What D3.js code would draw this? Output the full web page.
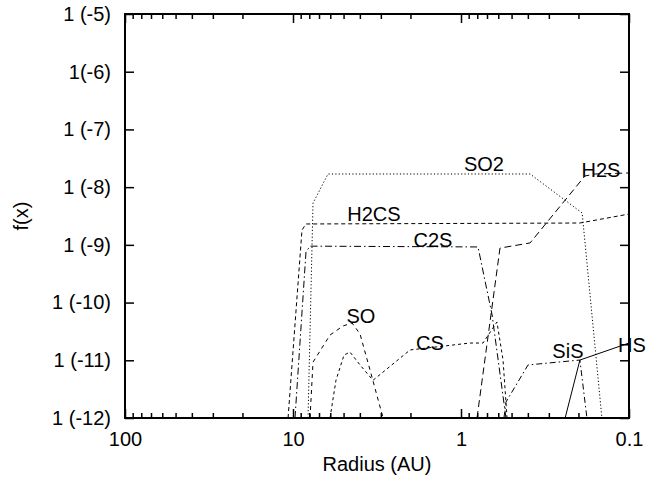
<!DOCTYPE html>
<html>
<head>
<meta charset="utf-8">
<script src="https://cdn.jsdelivr.net/npm/d3@7"></script>
<style>
  body { margin: 0; background: #fff; }
  svg text { font-family: "Liberation Sans", Arial, sans-serif; fill: #000; }
</style>
</head>
<body>
<div id="chart"></div>
<script>
// radius (AU) and fractional abundance f(x)
const so2R  = [8.14, 7.60, 6.19, 0.388, 0.190, 0.145];
const so2F  = [1e-12, 5.3e-9, 1.69e-8, 1.69e-8, 3.56e-9, 1e-12];
const h2csR = [10.7, 8.84, 8.37, 0.196, 0.1];
const h2csF = [1e-12, 1.81e-9, 2.30e-9, 2.39e-9, 3.42e-9];
const c2sR  = [9.73, 8.37, 7.92, 0.792, 0.653, 0.540];
const c2sF  = [1e-12, 7.5e-10, 9.5e-10, 9.2e-10, 6.1e-11, 1e-12];
const h2sR  = [0.803, 0.586, 0.388, 0.183, 0.159, 0.1];
const h2sF  = [1e-12, 8.8e-10, 1.08e-9, 1.56e-8, 1.69e-8, 1.76e-8];
const soR   = [7.92, 7.60, 6.02, 5.04, 4.45, 3.99, 3.48, 2.91];
const soF   = [1e-12, 9.3e-12, 2.74e-11, 3.93e-11, 4.43e-11, 2.85e-11, 6.8e-12, 1e-12];
const csR   = [6.02, 5.55, 4.97, 4.58, 3.99, 3.34, 2.01, 0.884, 0.740, 0.611, 0.562, 0.532];
const csF   = [1e-12, 4.5e-12, 1.23e-11, 1.39e-11, 8.3e-12, 4.5e-12, 1.51e-11, 1.99e-11, 1.99e-11, 4.6e-11, 1.01e-11, 1e-12];
const sisR  = [0.555, 0.540, 0.399, 0.196, 0.178];
const sisF  = [1e-12, 1.89e-12, 8.3e-12, 1.01e-11, 1e-12];
const hsR   = [0.240, 0.196, 0.1];
const hsF   = [1e-12, 1.01e-11, 1.99e-11];

const yTickValues = [1e-5, 1e-6, 1e-7, 1e-8, 1e-9, 1e-10, 1e-11, 1e-12];
const yTickLabels = ["1 (-5)", "1(-6)", "1 (-7)", "1 (-8)", "1 (-9)", "1 (-10)", "1 (-11)", "1 (-12)"];
const xMajor = [100, 10, 1, 0.1];
const xMajorLabels = ["100", "10", "1", "0.1"];

// curve labels, anchored in data units
const labelNames = ["SO2", "H2S", "H2CS", "C2S", "SO", "CS", "SiS", "HS"];
const labelR = [0.730, 0.147, 3.3, 1.47, 3.94, 1.53, 0.231, 0.096];
const labelF = [1.9e-8, 1.5e-8, 2.6e-9, 9.2e-10, 4.4e-11, 1.5e-11, 1.1e-11, 1.39e-11];

const series = [
  { r: so2R,  f: so2F,  dash: "1.2,2.2" },
  { r: h2csR, f: h2csF, dash: "4,3" },
  { r: c2sR,  f: c2sF,  dash: "7,3,1.5,3" },
  { r: h2sR,  f: h2sF,  dash: "7,4" },
  { r: soR,   f: soF,   dash: "4,4" },
  { r: csR,   f: csF,   dash: "3,3" },
  { r: sisR,  f: sisF,  dash: "6,3,1.5,3" },
  { r: hsR,   f: hsF,   dash: null }
];

const W = 646, H = 479;
const margin = { top: 14, right: 17, bottom: 61, left: 125 };
const width = W - margin.left - margin.right,
      height = H - margin.top - margin.bottom;

const svg = d3.select("#chart").append("svg")
    .attr("width", W)
    .attr("height", H);
const g = svg.append("g")
    .attr("transform", `translate(${margin.left},${margin.top})`);

const x = d3.scaleLog().domain([100, 0.1]).range([0, width]);
const y = d3.scaleLog().domain([1e-12, 1e-5]).range([height, 0]);

// all tick positions on x (majors + minors)
const xAll = [];
[0.1, 1, 10].forEach(d => { for (let k = 1; k <= 9; k++) xAll.push(+(d * k).toPrecision(3)); });
xAll.push(100);
const isMajor = v => xMajor.some(m => Math.abs(m - v) < 1e-9);

g.append("defs").append("clipPath").attr("id", "plot")
  .append("rect").attr("width", width).attr("height", height);

// lines
const line = d3.line()
    .x(d => x(d[0]))
    .y(d => y(d[1]));

g.append("g").attr("clip-path", "url(#plot)")
  .selectAll("path")
  .data(series)
  .join("path")
    .attr("d", s => line(s.r.map((r, i) => [r, s.f[i]])))
    .attr("fill", "none")
    .attr("stroke", "#000")
    .attr("stroke-width", 1)
    .attr("stroke-dasharray", s => s.dash);

// bottom axis
const xb = g.append("g").attr("transform", `translate(0,${height})`)
  .call(d3.axisBottom(x).tickValues(xAll).tickSize(-5).tickPadding(14)
    .tickFormat(v => isMajor(v) ? xMajorLabels[xMajor.findIndex(m => Math.abs(m - v) < 1e-9)] : ""));
// top axis
const xt = g.append("g")
  .call(d3.axisTop(x).tickValues(xAll).tickSize(-5).tickFormat(""));
[xb, xt].forEach(a => {
  a.selectAll(".tick line").attr("y2", d => (isMajor(d) ? 9 : 5) * (a === xb ? -1 : 1));
});

// left / right axes
g.append("g")
  .call(d3.axisLeft(y).tickValues(yTickValues).tickSize(-9).tickPadding(14)
    .tickFormat((d, i) => yTickLabels[i]));
g.append("g").attr("transform", `translate(${width},0)`)
  .call(d3.axisRight(y).tickValues(yTickValues).tickSize(-9).tickFormat(""));

g.selectAll(".domain").remove();
g.selectAll(".tick line").attr("stroke", "#000").attr("stroke-width", 1.5);
g.selectAll(".tick text").attr("font-size", 20).attr("font-family", null);

g.append("rect")
    .attr("width", width).attr("height", height)
    .attr("fill", "none").attr("stroke", "#000").attr("stroke-width", 2);

// curve labels
g.selectAll(".curve-label")
  .data(labelNames)
  .join("text")
    .attr("class", "curve-label")
    .attr("x", (d, i) => x(labelR[i]))
    .attr("y", (d, i) => y(labelF[i]))
    .attr("text-anchor", "middle")
    .attr("font-size", 20)
    .text(d => d);

// axis titles
svg.append("text")
    .attr("x", margin.left + width / 2)
    .attr("y", 471)
    .attr("text-anchor", "middle")
    .attr("font-size", 20)
    .text("Radius (AU)");
svg.append("text")
    .attr("transform", `translate(28,${margin.top + height / 2}) rotate(-90)`)
    .attr("text-anchor", "middle")
    .attr("font-size", 20)
    .text("f(x)");
</script>
</body>
</html>
